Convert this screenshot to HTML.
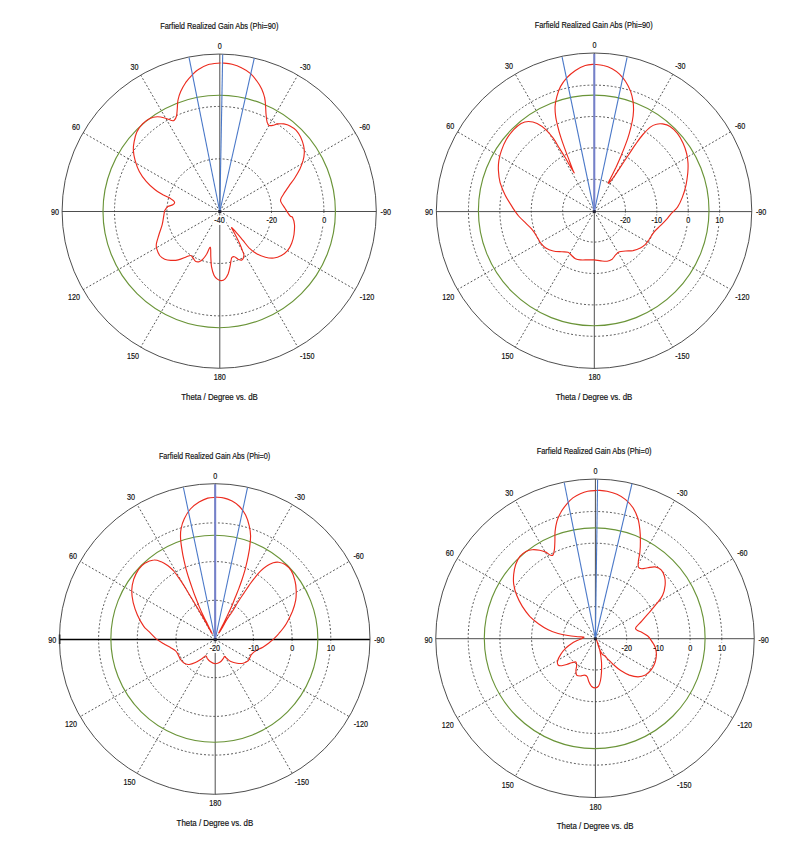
<!DOCTYPE html><html><head><meta charset="utf-8"><title>Farfield</title><style>
html,body{margin:0;padding:0;background:#fff}body{width:811px;height:863px;overflow:hidden}
svg{display:block}text{font-family:"Liberation Sans",sans-serif;fill:#111;stroke:#111;stroke-width:0.18px}
.t{font-size:8.8px}.a{font-size:8.8px}.g{fill:none;stroke:#2a2a2a;stroke-width:0.8;stroke-dasharray:1.9 2}
.o{fill:none;stroke:#3a3a3a;stroke-width:0.9}.x{stroke:#3a3a3a;stroke-width:0.9}
.gr{fill:none;stroke:#6a9438;stroke-width:1.15}.b{stroke:#4a78c8;stroke-width:1.1;fill:none}
.r{fill:none;stroke:#ec2b1e;stroke-width:1.15;stroke-linejoin:round;stroke-linecap:round}
</style></head><body>
<svg width="811" height="863" viewBox="0 0 811 863">
<rect width="811" height="863" fill="#fff"/>
<g>
<circle class="g" cx="219.20" cy="211.15" r="52.3"/>
<circle class="g" cx="219.20" cy="211.15" r="104.7"/>
<line class="g" x1="219.8" y1="211.5" x2="140.7" y2="75.1"/>
<line class="g" x1="219.8" y1="211.5" x2="83.1" y2="132.6"/>
<line class="g" x1="219.8" y1="211.5" x2="83.1" y2="289.7"/>
<line class="g" x1="219.8" y1="211.5" x2="140.7" y2="347.2"/>
<line class="g" x1="219.8" y1="211.5" x2="297.8" y2="75.1"/>
<line class="g" x1="219.8" y1="211.5" x2="355.3" y2="132.6"/>
<line class="g" x1="219.8" y1="211.5" x2="355.3" y2="289.7"/>
<line class="g" x1="219.8" y1="211.5" x2="297.8" y2="347.2"/>
<line class="x" x1="62.1" y1="211.5" x2="376.3" y2="211.5"/>
<line class="x" x1="219.8" y1="54.1" x2="219.8" y2="368.2"/>
<circle class="o" cx="219.20" cy="211.15" r="157.10"/>
<rect x="212.8" y="215.3" width="13.5" height="9.6" fill="#fff"/>
<rect x="265.1" y="215.3" width="13.5" height="9.6" fill="#fff"/>
<rect x="321.4" y="215.3" width="5.5" height="9.6" fill="#fff"/>
<circle class="gr" cx="219.20" cy="211.50" r="116.2"/>
<path class="r" d="M222.2 63.0C223.8 63.2 228.8 63.4 232.1 64.3C235.3 65.1 238.8 66.4 241.9 68.0C245.0 69.5 248.0 71.4 250.6 73.6C253.1 75.9 255.4 79.0 257.2 81.5C259.1 84.1 260.4 86.2 261.7 88.9C262.9 91.6 264.0 94.7 264.6 97.5C265.3 100.4 265.4 103.3 265.6 106.2C265.8 109.1 265.8 112.1 266.1 114.8C266.3 117.5 266.6 120.4 267.1 122.2C267.6 124.0 268.1 124.9 269.1 125.4C270.0 125.9 271.3 125.7 272.7 125.4C274.2 125.2 275.8 124.2 277.7 123.9C279.5 123.7 281.8 123.6 283.8 123.9C285.9 124.3 288.0 124.8 290.0 125.9C292.1 127.0 294.4 128.5 296.2 130.3C297.9 132.2 299.4 134.5 300.6 137.0C301.8 139.6 303.0 143.0 303.6 145.6C304.2 148.3 304.4 150.6 304.3 153.0C304.2 155.5 303.8 157.8 303.1 160.4C302.3 163.1 301.2 166.2 299.9 169.1C298.5 171.9 296.8 174.8 294.9 177.7C293.1 180.6 290.6 183.7 288.8 186.3C286.9 189.0 285.2 191.7 283.8 193.7C282.5 195.8 281.4 197.3 280.9 198.7C280.4 200.0 280.2 200.2 280.9 201.9C281.6 203.5 283.6 206.2 285.1 208.5C286.6 210.9 288.8 214.5 290.0 215.9C291.2 217.4 291.7 215.8 292.5 217.3C293.2 218.7 294.2 221.8 294.5 224.7C294.7 227.5 294.4 231.4 294.0 234.5C293.5 237.6 292.8 240.5 291.7 243.2C290.7 245.8 289.3 248.5 287.5 250.6C285.8 252.6 283.6 254.3 281.4 255.5C279.1 256.7 276.7 257.7 274.0 258.0C271.3 258.2 268.2 257.9 265.4 257.2C262.5 256.5 259.4 255.3 256.7 253.8C254.0 252.2 251.6 250.3 249.3 248.1C247.1 245.9 245.2 243.2 243.2 240.7C241.1 238.2 238.9 235.5 237.0 233.3C235.1 231.1 232.0 227.6 231.6 227.6C231.2 227.6 233.2 230.7 234.5 233.3C235.8 235.9 238.1 240.3 239.5 243.2C240.8 246.0 241.7 248.5 242.4 250.6C243.2 252.6 244.0 253.9 243.9 255.5C243.8 257.0 242.9 259.3 241.9 259.9C241.0 260.5 239.5 259.7 238.2 259.2C237.0 258.7 235.6 257.0 234.5 256.7C233.5 256.4 232.6 256.8 232.1 257.2C231.5 257.6 231.6 257.6 231.3 259.2C230.9 260.7 230.6 264.1 230.0 266.6C229.5 269.1 228.9 271.9 228.1 274.0C227.2 276.0 226.2 277.8 225.1 278.9C224.0 280.0 222.6 280.6 221.4 280.6C220.2 280.7 218.9 280.3 217.7 279.4C216.5 278.5 215.0 277.4 214.0 275.2C213.0 273.1 212.1 269.7 211.5 266.6C211.0 263.5 211.0 259.9 210.8 256.7C210.6 253.5 211.0 247.8 210.3 247.3C209.6 246.9 207.8 252.3 206.6 254.3C205.4 256.2 204.1 258.0 202.9 259.2C201.7 260.4 200.4 261.3 199.2 261.7C198.0 262.0 196.5 261.8 195.5 261.2C194.5 260.5 193.9 258.9 193.0 258.0C192.2 257.0 191.8 255.6 190.6 255.5C189.3 255.4 187.7 256.5 185.6 257.2C183.6 258.0 180.7 259.4 178.2 259.9C175.8 260.5 173.1 260.5 170.8 260.4C168.6 260.3 166.5 260.0 164.7 259.2C162.8 258.4 161.1 257.3 159.7 255.5C158.4 253.6 157.1 250.1 156.5 248.1C156.0 246.0 156.1 245.4 156.5 243.2C156.9 240.9 158.1 237.6 159.0 234.5C159.9 231.4 161.4 227.9 162.2 224.7C163.0 221.4 163.5 217.2 163.9 214.8C164.4 212.4 164.3 211.6 164.9 210.2C165.6 208.9 166.6 207.5 167.9 206.5C169.2 205.6 171.7 205.6 172.8 204.8C173.9 204.0 174.9 202.9 174.5 201.9C174.2 200.8 172.7 199.8 170.8 198.7C169.0 197.5 166.1 196.5 163.4 195.0C160.8 193.4 157.7 191.8 154.8 189.5C151.9 187.3 148.8 184.4 146.2 181.4C143.6 178.4 141.1 175.0 139.3 171.5C137.4 168.0 136.1 163.9 135.1 160.4C134.1 156.9 133.5 153.6 133.4 150.6C133.2 147.5 133.5 145.0 134.1 141.9C134.7 138.9 135.4 135.1 136.8 132.1C138.2 129.1 140.3 126.2 142.5 123.9C144.7 121.7 147.4 119.7 149.9 118.5C152.3 117.3 154.8 116.9 157.3 116.8C159.7 116.7 162.4 117.4 164.7 118.0C166.9 118.6 169.3 119.8 170.8 120.2C172.4 120.6 173.1 121.2 174.0 120.5C175.0 119.8 176.0 118.0 176.5 116.0C177.0 114.1 177.0 111.3 177.3 108.6C177.5 106.0 177.4 102.9 178.0 100.0C178.6 97.1 179.4 94.3 180.7 91.4C182.0 88.5 183.8 85.4 185.6 82.7C187.5 80.1 189.7 77.5 191.8 75.4C193.9 73.2 195.3 71.4 198.0 69.7C200.6 67.9 204.1 65.9 207.8 64.7C211.5 63.6 218.1 63.3 220.2 63.0"/>
<line class="b" x1="219.8" y1="211.5" x2="189.0" y2="57.4"/>
<line class="b" x1="219.8" y1="211.5" x2="254.3" y2="58.2"/>
<line class="b" x1="219.8" y1="211.5" x2="222.7" y2="54.4"/>
<circle cx="219.8" cy="211.5" r="1.5" fill="#223"/>
<text class="t" x="219.3" y="29.4" text-anchor="middle" textLength="118.2" lengthAdjust="spacingAndGlyphs">Farfield Realized Gain Abs (Phi=90)</text>
<text class="t" x="219.5" y="400.4" text-anchor="middle" textLength="76.6" lengthAdjust="spacingAndGlyphs">Theta / Degree vs. dB</text>
<text class="a" transform="translate(219.7 49.4) scale(0.82 1)" text-anchor="middle">0</text>
<text class="a" transform="translate(134.6 70.3) scale(0.82 1)" text-anchor="middle">30</text>
<text class="a" transform="translate(305.3 70.3) scale(0.82 1)" text-anchor="middle">-30</text>
<text class="a" transform="translate(75.9 129.7) scale(0.82 1)" text-anchor="middle">60</text>
<text class="a" transform="translate(364.7 129.7) scale(0.82 1)" text-anchor="middle">-60</text>
<text class="a" transform="translate(54.9 215.3) scale(0.82 1)" text-anchor="middle">90</text>
<text class="a" transform="translate(385.7 215.3) scale(0.82 1)" text-anchor="middle">-90</text>
<text class="a" transform="translate(73.9 299.8) scale(0.82 1)" text-anchor="middle">120</text>
<text class="a" transform="translate(367.0 299.8) scale(0.82 1)" text-anchor="middle">-120</text>
<text class="a" transform="translate(133.1 359.0) scale(0.82 1)" text-anchor="middle">150</text>
<text class="a" transform="translate(307.3 359.0) scale(0.82 1)" text-anchor="middle">-150</text>
<text class="a" transform="translate(219.7 380.2) scale(0.82 1)" text-anchor="middle">180</text>
<text class="a" transform="translate(219.5 223.3) scale(0.82 1)" text-anchor="middle">-40</text>
<text class="a" transform="translate(271.8 223.3) scale(0.82 1)" text-anchor="middle">-20</text>
<text class="a" transform="translate(324.2 223.3) scale(0.82 1)" text-anchor="middle">0</text>
</g>
<g>
<circle class="g" cx="594.05" cy="210.70" r="31.4"/>
<circle class="g" cx="594.05" cy="210.70" r="62.8"/>
<circle class="g" cx="594.05" cy="210.70" r="94.2"/>
<circle class="g" cx="594.05" cy="210.70" r="125.6"/>
<line class="g" x1="594.3" y1="211.6" x2="515.2" y2="74.1"/>
<line class="g" x1="594.3" y1="211.6" x2="457.5" y2="131.8"/>
<line class="g" x1="594.3" y1="211.6" x2="457.5" y2="289.5"/>
<line class="g" x1="594.3" y1="211.6" x2="515.2" y2="347.3"/>
<line class="g" x1="594.3" y1="211.6" x2="672.9" y2="74.1"/>
<line class="g" x1="594.3" y1="211.6" x2="730.6" y2="131.8"/>
<line class="g" x1="594.3" y1="211.6" x2="730.6" y2="289.5"/>
<line class="g" x1="594.3" y1="211.6" x2="672.9" y2="347.3"/>
<line class="x" x1="436.3" y1="211.6" x2="751.8" y2="211.6"/>
<line class="x" x1="594.3" y1="53.0" x2="594.3" y2="368.4"/>
<circle class="o" cx="594.05" cy="210.70" r="157.70"/>
<rect x="618.6" y="215.4" width="13.5" height="9.6" fill="#fff"/>
<rect x="650.0" y="215.4" width="13.5" height="9.6" fill="#fff"/>
<rect x="685.5" y="215.4" width="5.5" height="9.6" fill="#fff"/>
<rect x="714.6" y="215.4" width="10.0" height="9.6" fill="#fff"/>
<circle class="gr" cx="593.70" cy="210.40" r="115.3"/>
<path class="r" d="M594.3 64.3C595.8 64.5 600.5 64.7 603.4 65.5C606.4 66.2 609.4 67.3 612.1 68.7C614.7 70.1 617.2 72.0 619.5 74.1C621.7 76.3 623.8 78.6 625.6 81.5C627.5 84.4 629.3 88.1 630.6 91.4C631.8 94.7 632.5 98.0 633.0 101.2C633.5 104.5 633.6 107.8 633.5 111.1C633.4 114.4 633.0 117.3 632.3 121.0C631.6 124.7 630.4 129.4 629.3 133.3C628.2 137.2 627.1 140.5 625.6 144.4C624.2 148.3 622.3 152.8 620.7 156.7C619.0 160.6 617.4 164.3 615.8 167.8C614.1 171.3 612.1 175.1 610.8 177.7C609.6 180.3 607.9 183.4 608.4 183.4C608.8 183.4 611.2 180.5 613.3 177.7C615.3 174.9 618.2 170.3 620.7 166.6C623.2 162.9 625.6 159.2 628.1 155.5C630.6 151.8 633.0 147.9 635.5 144.4C638.0 140.9 640.4 137.4 642.9 134.5C645.4 131.7 648.0 128.9 650.3 127.1C652.5 125.4 654.4 124.7 656.4 124.2C658.5 123.6 660.4 123.6 662.6 123.9C664.9 124.3 667.5 124.8 670.0 126.4C672.5 128.0 675.2 130.5 677.4 133.3C679.6 136.1 681.6 139.9 683.1 143.2C684.6 146.5 685.7 149.7 686.5 153.0C687.4 156.3 687.8 159.6 688.0 162.9C688.2 166.2 688.1 169.1 687.8 172.8C687.4 176.5 686.9 181.0 686.0 185.1C685.1 189.2 683.8 193.7 682.3 197.4C680.9 201.1 679.3 204.6 677.4 207.3C675.6 210.0 673.1 211.5 671.2 213.6C669.4 215.6 668.2 217.7 666.3 219.7C664.5 221.8 662.2 223.8 660.1 225.9C658.1 227.9 655.8 229.8 654.0 232.1C652.1 234.3 650.5 237.4 649.1 239.5C647.6 241.5 646.8 243.0 645.4 244.4C643.9 245.8 642.5 247.1 640.4 248.1C638.4 249.1 635.5 250.1 633.0 250.6C630.6 251.0 627.9 250.8 625.6 251.0C623.4 251.3 621.1 251.2 619.5 251.8C617.8 252.4 617.0 253.5 615.8 254.7C614.5 256.0 613.5 258.1 612.1 259.2C610.6 260.3 609.0 260.9 607.1 261.2C605.3 261.4 603.1 261.1 601.0 260.9C598.8 260.7 596.5 260.1 594.3 259.9C592.1 259.8 590.0 259.9 587.7 259.9C585.4 259.9 582.4 260.1 580.3 259.9C578.2 259.7 576.8 259.4 575.4 258.7C573.9 258.0 572.9 256.6 571.7 255.5C570.4 254.4 569.6 252.9 568.0 252.3C566.3 251.7 564.3 252.0 561.8 251.8C559.3 251.6 555.8 251.7 553.2 251.0C550.5 250.4 547.8 249.4 545.8 248.1C543.7 246.8 542.3 245.0 540.8 243.2C539.4 241.3 538.6 239.3 537.1 237.0C535.7 234.7 534.1 231.9 532.2 229.6C530.4 227.3 528.3 225.7 526.0 223.4C523.8 221.2 520.9 218.7 518.6 216.0C516.4 213.4 513.5 208.9 512.5 207.4C511.5 205.9 513.7 209.4 512.5 207.3C511.2 205.2 507.1 199.1 505.1 195.0C503.0 190.8 501.3 186.7 500.1 182.6C499.0 178.5 498.6 174.0 498.4 170.3C498.2 166.6 498.4 163.7 498.9 160.4C499.4 157.1 500.1 154.1 501.4 150.6C502.6 147.1 504.3 143.0 506.3 139.5C508.4 136.0 511.2 132.3 513.7 129.6C516.2 126.9 518.6 124.8 521.1 123.4C523.6 122.1 525.8 121.5 528.5 121.5C531.2 121.5 534.3 122.1 537.1 123.4C540.0 124.8 543.1 127.1 545.8 129.6C548.4 132.1 550.9 135.2 553.2 138.2C555.4 141.3 557.3 144.8 559.3 148.1C561.4 151.4 563.6 154.9 565.5 158.0C567.3 161.0 569.0 164.1 570.4 166.6C571.9 169.1 573.7 172.1 574.1 172.8C574.5 173.4 573.6 172.1 572.9 170.3C572.2 168.4 570.9 165.0 569.7 161.7C568.5 158.4 566.9 154.5 565.5 150.6C564.1 146.7 562.4 142.3 561.1 138.2C559.7 134.1 558.5 129.6 557.6 125.9C556.7 122.2 556.0 119.3 555.6 116.0C555.2 112.8 554.9 109.5 555.1 106.2C555.3 102.9 556.0 99.6 556.9 96.3C557.8 93.0 558.9 89.5 560.6 86.4C562.2 83.4 564.3 80.5 566.7 77.8C569.2 75.1 572.3 72.5 575.4 70.4C578.4 68.4 582.1 66.5 585.2 65.5C588.4 64.5 592.8 64.5 594.4 64.3"/>
<line class="b" x1="594.3" y1="211.6" x2="562.1" y2="57.2"/>
<line class="b" x1="594.3" y1="211.6" x2="627.1" y2="57.3"/>
<line x1="594.3" y1="211.6" x2="594.3" y2="53.9" stroke="#7480cb" stroke-width="2"/>
<circle cx="594.3" cy="211.6" r="1.5" fill="#223"/>
<text class="t" x="593.7" y="28.4" text-anchor="middle" textLength="118.0" lengthAdjust="spacingAndGlyphs">Farfield Realized Gain Abs (Phi=90)</text>
<text class="t" x="594.0" y="399.8" text-anchor="middle" textLength="76.6" lengthAdjust="spacingAndGlyphs">Theta / Degree vs. dB</text>
<text class="a" transform="translate(594.5 48.4) scale(0.82 1)" text-anchor="middle">0</text>
<text class="a" transform="translate(509.1 69.3) scale(0.82 1)" text-anchor="middle">30</text>
<text class="a" transform="translate(680.4 69.3) scale(0.82 1)" text-anchor="middle">-30</text>
<text class="a" transform="translate(450.2 128.9) scale(0.82 1)" text-anchor="middle">60</text>
<text class="a" transform="translate(740.1 128.9) scale(0.82 1)" text-anchor="middle">-60</text>
<text class="a" transform="translate(429.1 214.8) scale(0.82 1)" text-anchor="middle">90</text>
<text class="a" transform="translate(761.1 214.8) scale(0.82 1)" text-anchor="middle">-90</text>
<text class="a" transform="translate(448.2 299.7) scale(0.82 1)" text-anchor="middle">120</text>
<text class="a" transform="translate(742.4 299.7) scale(0.82 1)" text-anchor="middle">-120</text>
<text class="a" transform="translate(507.6 359.1) scale(0.82 1)" text-anchor="middle">150</text>
<text class="a" transform="translate(682.4 359.1) scale(0.82 1)" text-anchor="middle">-150</text>
<text class="a" transform="translate(594.5 380.4) scale(0.82 1)" text-anchor="middle">180</text>
<text class="a" transform="translate(625.4 223.4) scale(0.82 1)" text-anchor="middle">-20</text>
<text class="a" transform="translate(656.8 223.4) scale(0.82 1)" text-anchor="middle">-10</text>
<text class="a" transform="translate(688.2 223.4) scale(0.82 1)" text-anchor="middle">0</text>
<text class="a" transform="translate(719.6 223.4) scale(0.82 1)" text-anchor="middle">10</text>
</g>
<g>
<circle class="g" cx="214.70" cy="639.00" r="38.7"/>
<circle class="g" cx="214.70" cy="639.00" r="77.4"/>
<circle class="g" cx="214.70" cy="639.00" r="116.1"/>
<line class="g" x1="215.2" y1="639.5" x2="137.1" y2="504.5"/>
<line class="g" x1="215.2" y1="639.5" x2="80.2" y2="561.4"/>
<line class="g" x1="215.2" y1="639.5" x2="80.2" y2="716.6"/>
<line class="g" x1="215.2" y1="639.5" x2="137.1" y2="773.5"/>
<line class="g" x1="215.2" y1="639.5" x2="292.3" y2="504.5"/>
<line class="g" x1="215.2" y1="639.5" x2="349.2" y2="561.4"/>
<line class="g" x1="215.2" y1="639.5" x2="349.2" y2="716.6"/>
<line class="g" x1="215.2" y1="639.5" x2="292.3" y2="773.5"/>
<line x1="59.4" y1="639.5" x2="370.0" y2="639.5" stroke="#000" stroke-width="1.35"/>
<line x1="59.6" y1="634.5" x2="59.6" y2="644.0" stroke="#000" stroke-width="1.6"/>
<line class="x" x1="215.2" y1="483.7" x2="215.2" y2="794.3"/>
<circle class="o" cx="214.70" cy="639.00" r="155.30"/>
<rect x="208.1" y="643.3" width="13.5" height="9.6" fill="#fff"/>
<rect x="246.8" y="643.3" width="13.5" height="9.6" fill="#fff"/>
<rect x="289.6" y="643.3" width="5.5" height="9.6" fill="#fff"/>
<rect x="326.0" y="643.3" width="10.0" height="9.6" fill="#fff"/>
<circle class="gr" cx="214.35" cy="638.70" r="103.5"/>
<path class="r" d="M215.3 497.1C216.6 497.3 220.6 497.2 223.4 497.9C226.2 498.5 229.4 499.7 232.1 501.1C234.7 502.5 237.2 504.2 239.5 506.5C241.7 508.9 244.0 511.9 245.6 515.1C247.3 518.4 248.5 522.8 249.3 526.2C250.1 529.7 250.5 532.8 250.6 536.1C250.6 539.4 250.1 543.5 249.8 546.0C249.6 548.5 249.5 548.7 249.1 551.1C248.7 553.5 248.0 557.3 247.3 560.3C246.6 563.4 245.9 566.5 245.1 569.6C244.2 572.7 243.3 575.8 242.3 578.8C241.3 581.9 240.1 585.0 239.0 588.1C237.8 591.2 236.5 594.3 235.3 597.3C234.0 600.4 232.9 603.5 231.6 606.6C230.2 609.7 228.7 612.9 227.3 615.8C225.9 618.8 224.5 621.7 223.2 624.2C222.0 626.6 220.6 629.1 219.9 630.6C219.2 632.1 218.7 633.0 218.8 633.0C218.9 633.1 219.6 632.1 220.3 631.0C220.9 629.9 221.8 628.5 222.9 626.6C224.0 624.6 225.3 622.1 226.9 619.5C228.5 617.0 230.6 614.1 232.5 611.2C234.3 608.3 236.2 604.9 238.0 602.0C239.9 599.0 241.7 596.4 243.6 593.6C245.4 590.9 247.3 587.9 249.1 585.3C251.0 582.7 252.8 580.2 254.7 577.9C256.5 575.6 258.2 573.4 260.2 571.4C262.2 569.4 264.5 567.3 266.7 565.9C268.9 564.4 271.2 563.4 273.2 562.7C275.2 562.1 276.7 561.9 278.7 562.2C280.7 562.5 283.0 563.1 285.1 564.5C287.2 565.9 289.6 568.0 291.2 570.6C292.9 573.3 294.1 577.2 294.9 580.5C295.8 583.8 296.1 587.1 296.2 590.4C296.3 593.7 296.3 596.7 295.7 600.2C295.1 603.7 294.0 607.4 292.5 611.3C290.9 615.2 288.6 620.0 286.3 623.7C284.1 627.4 281.0 631.0 278.9 633.5C276.9 636.0 275.6 637.0 274.0 638.6C272.3 640.1 270.9 641.3 269.1 642.8C267.2 644.2 264.9 646.0 262.9 647.2C260.8 648.4 258.6 649.0 256.7 650.2C254.9 651.3 252.9 652.9 251.8 654.1C250.7 655.3 250.7 655.9 250.1 657.1C249.4 658.2 249.2 659.7 248.1 660.8C246.9 661.8 245.0 662.8 243.2 663.2C241.3 663.6 239.0 663.5 237.0 663.2C234.9 662.9 232.6 662.3 230.8 661.5C229.1 660.7 227.7 659.2 226.6 658.3C225.6 657.4 225.2 656.3 224.7 656.3C224.1 656.3 224.2 657.3 223.4 658.3C222.7 659.2 221.6 661.1 220.2 662.0C218.9 662.9 217.0 663.8 215.3 663.7C213.6 663.6 211.5 662.4 210.2 661.5C208.8 660.6 207.9 659.2 207.2 658.3C206.5 657.3 206.7 655.7 205.7 655.8C204.8 655.9 203.3 657.9 201.5 659.0C199.8 660.1 197.4 661.6 195.4 662.5C193.3 663.4 191.0 664.3 189.2 664.5C187.3 664.6 185.7 664.0 184.3 663.2C182.8 662.4 181.6 661.0 180.6 659.5C179.5 658.1 178.9 656.0 178.1 654.6C177.3 653.2 176.9 652.0 175.6 650.9C174.4 649.7 172.8 648.9 170.7 647.7C168.6 646.5 165.8 645.0 163.3 643.5C160.8 642.0 158.4 640.6 155.9 638.6C153.4 636.5 150.6 633.2 148.5 631.2C146.5 629.1 145.4 628.8 143.6 626.1C141.7 623.4 139.1 618.9 137.4 615.0C135.7 611.1 134.2 606.8 133.2 602.7C132.3 598.6 131.7 594.3 131.7 590.4C131.8 586.5 132.6 582.8 133.7 579.3C134.9 575.8 136.8 572.1 138.6 569.4C140.5 566.7 142.3 564.8 144.8 563.2C147.3 561.7 151.1 560.2 153.9 560.0C156.6 559.7 159.0 560.9 161.3 561.8C163.6 562.7 165.7 564.1 167.7 565.5C169.7 567.0 171.4 568.5 173.3 570.5C175.1 572.6 177.0 575.3 178.8 577.9C180.7 580.5 182.5 583.3 184.4 586.2C186.2 589.2 188.1 592.4 189.9 595.5C191.8 598.6 193.6 601.7 195.5 604.7C197.3 607.8 199.3 611.1 201.0 614.0C202.7 616.9 204.2 619.7 205.7 622.3C207.1 624.9 208.5 627.5 209.5 629.3C210.6 631.2 211.9 633.4 212.1 633.6C212.3 633.8 211.4 632.2 210.7 630.6C209.9 629.1 208.7 626.6 207.5 624.2C206.3 621.7 204.6 618.8 203.3 615.8C201.9 612.9 200.5 609.7 199.2 606.6C197.9 603.5 196.7 600.4 195.5 597.3C194.3 594.3 193.2 591.2 192.2 588.1C191.1 585.0 190.0 581.9 189.0 578.8C188.0 575.8 187.1 572.7 186.2 569.6C185.4 566.5 184.7 563.4 184.0 560.3C183.3 557.3 182.7 554.7 182.2 551.1C181.6 547.5 180.8 542.3 180.6 538.6C180.4 534.8 180.4 532.0 181.1 528.7C181.7 525.4 182.7 522.1 184.3 518.8C185.8 515.6 188.0 511.8 190.4 509.0C192.9 506.2 196.2 503.9 199.1 502.1C201.9 500.3 205.0 498.9 207.7 498.1C210.4 497.4 213.9 497.5 215.1 497.4"/>
<line class="b" x1="215.2" y1="639.5" x2="183.4" y2="487.5"/>
<line class="b" x1="215.2" y1="639.5" x2="247.5" y2="487.6"/>
<line x1="215.2" y1="639.5" x2="215.2" y2="484.2" stroke="#7480cb" stroke-width="2"/>
<circle cx="215.2" cy="639.5" r="1.5" fill="#223"/>
<text class="t" x="214.6" y="459.3" text-anchor="middle" textLength="111.4" lengthAdjust="spacingAndGlyphs">Farfield Realized Gain Abs (Phi=0)</text>
<text class="t" x="214.9" y="825.6" text-anchor="middle" textLength="76.6" lengthAdjust="spacingAndGlyphs">Theta / Degree vs. dB</text>
<text class="a" transform="translate(215.2 479.1) scale(0.82 1)" text-anchor="middle">0</text>
<text class="a" transform="translate(131.0 499.7) scale(0.82 1)" text-anchor="middle">30</text>
<text class="a" transform="translate(299.9 499.7) scale(0.82 1)" text-anchor="middle">-30</text>
<text class="a" transform="translate(73.0 558.5) scale(0.82 1)" text-anchor="middle">60</text>
<text class="a" transform="translate(358.6 558.5) scale(0.82 1)" text-anchor="middle">-60</text>
<text class="a" transform="translate(52.2 643.2) scale(0.82 1)" text-anchor="middle">90</text>
<text class="a" transform="translate(379.4 643.2) scale(0.82 1)" text-anchor="middle">-90</text>
<text class="a" transform="translate(71.0 726.8) scale(0.82 1)" text-anchor="middle">120</text>
<text class="a" transform="translate(360.9 726.8) scale(0.82 1)" text-anchor="middle">-120</text>
<text class="a" transform="translate(129.5 785.3) scale(0.82 1)" text-anchor="middle">150</text>
<text class="a" transform="translate(301.9 785.3) scale(0.82 1)" text-anchor="middle">-150</text>
<text class="a" transform="translate(215.2 806.3) scale(0.82 1)" text-anchor="middle">180</text>
<text class="a" transform="translate(214.9 651.3) scale(0.82 1)" text-anchor="middle">-20</text>
<text class="a" transform="translate(253.6 651.3) scale(0.82 1)" text-anchor="middle">-10</text>
<text class="a" transform="translate(292.3 651.3) scale(0.82 1)" text-anchor="middle">0</text>
<text class="a" transform="translate(331.0 651.3) scale(0.82 1)" text-anchor="middle">10</text>
</g>
<g>
<circle class="g" cx="595.00" cy="638.30" r="31.7"/>
<circle class="g" cx="595.00" cy="638.30" r="63.4"/>
<circle class="g" cx="595.00" cy="638.30" r="95.1"/>
<circle class="g" cx="595.00" cy="638.30" r="126.8"/>
<line class="g" x1="595.4" y1="638.7" x2="515.4" y2="500.4"/>
<line class="g" x1="595.4" y1="638.7" x2="457.1" y2="558.7"/>
<line class="g" x1="595.4" y1="638.7" x2="457.1" y2="717.9"/>
<line class="g" x1="595.4" y1="638.7" x2="515.4" y2="776.2"/>
<line class="g" x1="595.4" y1="638.7" x2="674.6" y2="500.4"/>
<line class="g" x1="595.4" y1="638.7" x2="732.9" y2="558.7"/>
<line class="g" x1="595.4" y1="638.7" x2="732.9" y2="717.9"/>
<line class="g" x1="595.4" y1="638.7" x2="674.6" y2="776.2"/>
<line class="x" x1="435.8" y1="638.7" x2="754.2" y2="638.7"/>
<line class="x" x1="595.4" y1="479.1" x2="595.4" y2="797.6"/>
<circle class="o" cx="595.00" cy="638.30" r="159.25"/>
<rect x="620.1" y="642.5" width="13.5" height="9.6" fill="#fff"/>
<rect x="651.8" y="642.5" width="13.5" height="9.6" fill="#fff"/>
<rect x="687.5" y="642.5" width="5.5" height="9.6" fill="#fff"/>
<rect x="716.9" y="642.5" width="10.0" height="9.6" fill="#fff"/>
<circle class="gr" cx="594.70" cy="638.20" r="110.4"/>
<path class="r" d="M597.3 490.2C598.9 490.4 603.8 490.6 607.1 491.2C610.4 491.9 613.9 492.8 617.0 494.2C620.1 495.6 623.0 497.4 625.6 499.6C628.3 501.9 631.0 504.5 633.0 507.7C635.1 511.0 636.8 515.1 638.0 518.8C639.1 522.5 639.5 526.2 639.9 529.9C640.3 533.6 640.4 537.3 640.4 541.0C640.4 544.7 640.3 548.9 639.9 552.1C639.6 555.4 638.7 558.3 638.4 560.8C638.2 563.2 637.9 565.6 638.4 566.9C639.0 568.3 640.1 568.5 641.7 568.7C643.2 568.8 645.6 568.0 647.8 567.7C650.1 567.4 653.0 566.5 655.2 566.9C657.5 567.3 659.8 568.5 661.4 570.1C662.9 571.8 664.0 574.3 664.6 576.8C665.2 579.3 665.4 582.3 665.1 585.4C664.8 588.5 664.1 592.2 662.6 595.3C661.2 598.4 658.7 601.1 656.4 603.9C654.2 606.8 651.5 609.7 649.1 612.6C646.6 615.4 643.9 618.5 641.7 621.2C639.4 623.9 635.5 626.7 635.5 628.6C635.5 630.4 639.6 631.1 641.7 632.3C643.7 633.5 646.2 634.5 647.8 636.0C649.5 637.4 650.3 639.1 651.5 640.9C652.7 642.8 654.4 644.9 655.2 647.2C656.0 649.5 656.4 652.1 656.4 654.6C656.4 657.1 656.0 659.5 655.2 662.0C654.4 664.5 653.2 667.2 651.5 669.4C649.9 671.6 647.6 673.8 645.4 675.1C643.1 676.3 640.6 676.8 638.0 676.8C635.3 676.8 632.2 676.1 629.3 675.1C626.4 674.0 623.4 672.4 620.7 670.6C618.0 668.9 615.6 666.5 613.3 664.5C611.0 662.4 608.6 659.7 607.1 658.3C605.7 656.9 605.5 656.5 604.7 655.8C603.8 655.1 603.1 655.3 602.2 654.1C601.3 652.9 600.1 650.4 599.2 648.4C598.4 646.5 597.8 643.8 597.3 642.3C596.8 640.7 596.2 639.1 596.3 639.3C596.4 639.5 597.1 641.4 597.8 643.5C598.4 645.6 599.6 649.0 600.2 652.1C600.8 655.2 601.2 658.7 601.5 662.0C601.7 665.3 601.6 668.8 601.5 671.9C601.3 674.9 601.0 678.1 600.5 680.5C600.0 682.9 599.4 684.9 598.5 686.2C597.6 687.4 596.5 687.9 595.3 687.9C594.1 687.9 592.5 687.2 591.4 686.2C590.3 685.1 589.6 683.3 588.9 681.7C588.2 680.2 587.9 677.9 587.2 676.8C586.5 675.7 585.9 675.2 584.7 675.1C583.6 674.9 581.7 676.0 580.3 676.0C578.9 676.0 577.3 676.0 576.6 675.1C575.9 674.2 575.9 672.2 575.9 670.6C575.9 669.1 576.6 667.1 576.6 665.7C576.6 664.3 576.7 662.5 575.9 662.0C575.0 661.5 573.2 662.3 571.7 662.7C570.1 663.1 568.4 664.0 566.7 664.5C565.1 665.0 563.2 665.6 561.8 665.7C560.4 665.8 558.8 665.8 558.1 665.0C557.4 664.1 557.2 662.5 557.6 660.8C558.0 659.0 559.3 656.6 560.6 654.6C561.9 652.5 563.6 650.3 565.5 648.4C567.3 646.6 569.6 644.9 571.7 643.5C573.7 642.1 575.8 641.3 577.8 640.3C579.9 639.3 584.0 637.9 584.0 637.3C584.0 636.7 580.5 637.0 577.8 636.7C575.2 636.4 571.3 636.0 568.0 635.5C564.7 635.0 561.4 634.5 558.1 633.5C554.8 632.6 551.5 631.5 548.2 629.8C544.9 628.2 541.5 625.9 538.4 623.7C535.3 621.4 532.4 619.1 529.7 616.3C527.1 613.4 524.5 609.9 522.3 606.4C520.2 602.9 518.1 599.0 516.7 595.3C515.2 591.6 514.2 587.7 513.7 584.2C513.2 580.7 513.4 577.6 513.7 574.3C514.0 571.0 514.7 567.5 515.7 564.5C516.7 561.5 518.2 558.5 519.9 556.3C521.6 554.2 524.0 552.5 526.0 551.4C528.1 550.3 529.9 549.9 532.2 549.7C534.5 549.5 537.3 549.8 539.6 550.2C541.9 550.6 543.9 551.3 545.8 552.1C547.6 553.0 549.5 554.9 550.7 555.3C551.9 555.8 552.6 555.6 553.2 554.6C553.8 553.7 554.1 551.9 554.4 549.7C554.7 547.4 554.8 544.1 554.9 541.0C555.0 538.0 554.8 534.5 555.1 531.2C555.5 527.9 556.0 524.4 556.9 521.3C557.8 518.2 558.9 515.6 560.6 512.7C562.2 509.8 564.7 506.5 566.7 504.1C568.8 501.6 570.6 499.6 572.9 497.9C575.2 496.2 577.8 494.8 580.3 493.7C582.8 492.6 585.0 491.8 587.7 491.2C590.4 490.7 594.9 490.6 596.3 490.5"/>
<line class="b" x1="595.4" y1="638.7" x2="564.2" y2="482.5"/>
<line class="b" x1="595.4" y1="638.7" x2="632.0" y2="483.7"/>
<line class="b" x1="595.4" y1="638.7" x2="597.6" y2="479.5"/>
<circle cx="595.4" cy="638.7" r="1.5" fill="#223"/>
<text class="t" x="594.1" y="454.1" text-anchor="middle" textLength="114.9" lengthAdjust="spacingAndGlyphs">Farfield Realized Gain Abs (Phi=0)</text>
<text class="t" x="595.1" y="829.1" text-anchor="middle" textLength="76.6" lengthAdjust="spacingAndGlyphs">Theta / Degree vs. dB</text>
<text class="a" transform="translate(595.5 474.4) scale(0.82 1)" text-anchor="middle">0</text>
<text class="a" transform="translate(509.3 495.6) scale(0.82 1)" text-anchor="middle">30</text>
<text class="a" transform="translate(682.2 495.6) scale(0.82 1)" text-anchor="middle">-30</text>
<text class="a" transform="translate(449.8 555.8) scale(0.82 1)" text-anchor="middle">60</text>
<text class="a" transform="translate(742.4 555.8) scale(0.82 1)" text-anchor="middle">-60</text>
<text class="a" transform="translate(428.6 642.5) scale(0.82 1)" text-anchor="middle">90</text>
<text class="a" transform="translate(763.6 642.5) scale(0.82 1)" text-anchor="middle">-90</text>
<text class="a" transform="translate(447.8 728.0) scale(0.82 1)" text-anchor="middle">120</text>
<text class="a" transform="translate(744.7 728.0) scale(0.82 1)" text-anchor="middle">-120</text>
<text class="a" transform="translate(507.8 788.0) scale(0.82 1)" text-anchor="middle">150</text>
<text class="a" transform="translate(684.2 788.0) scale(0.82 1)" text-anchor="middle">-150</text>
<text class="a" transform="translate(595.5 809.5) scale(0.82 1)" text-anchor="middle">180</text>
<text class="a" transform="translate(626.8 650.5) scale(0.82 1)" text-anchor="middle">-20</text>
<text class="a" transform="translate(658.5 650.5) scale(0.82 1)" text-anchor="middle">-10</text>
<text class="a" transform="translate(690.2 650.5) scale(0.82 1)" text-anchor="middle">0</text>
<text class="a" transform="translate(721.9 650.5) scale(0.82 1)" text-anchor="middle">10</text>
</g>
</svg></body></html>
